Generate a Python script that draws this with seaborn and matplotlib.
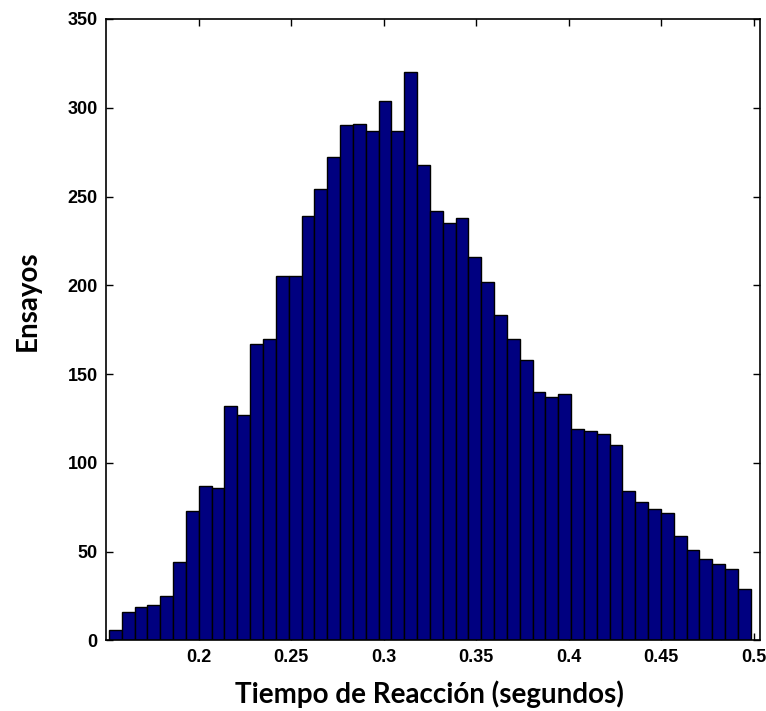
import numpy as np
import pandas as pd
import matplotlib
matplotlib.use("Agg")
import matplotlib.pyplot as plt
import seaborn as sns

# --- data ---
counts = [6, 16, 19, 20, 25, 44, 73, 87, 86, 132,
          127, 167, 170, 205, 205, 239, 254, 272, 290, 291,
          287, 304, 287, 320, 268, 242, 235, 238, 216, 202,
          183, 170, 158, 140, 137, 139, 119, 118, 116, 110,
          84, 78, 74, 72, 59, 51, 46, 43, 40, 29]
t_min = 0.1516   # left edge of first bin (s)
t_max = 0.4985   # right edge of last bin (s)
x_ticks = [0.2, 0.25, 0.3, 0.35, 0.4, 0.45, 0.5]
x_ticklabels = ["0.2", "0.25", "0.3", "0.35", "0.4", "0.45", "0.5"]
y_ticks = [0, 50, 100, 150, 200, 250, 300, 350]
xlabel = "Tiempo de Reacción (segundos)"
ylabel = "Ensayos"

n_bins = len(counts)
edges = np.linspace(t_min, t_max, n_bins + 1)
centers = (edges[:-1] + edges[1:]) / 2
df = pd.DataFrame({"t": centers, "n": counts})

sns.set_style("ticks")
plt.rcParams['font.family'] = ['Liberation Sans', 'DejaVu Sans']
plt.rcParams['text.color'] = 'black'
plt.rcParams['xtick.color'] = 'black'
plt.rcParams['ytick.color'] = 'black'
plt.rcParams['axes.labelcolor'] = 'black'

fig = plt.figure(figsize=(7.66, 7.11), dpi=100)
ax = fig.add_axes([0.1384, 0.0992, 0.9922 - 0.1384, 0.9734 - 0.0992])

sns.histplot(data=df, x="t", weights="n", bins=list(edges), ax=ax,
             color="#000080", edgecolor="black", linewidth=1.0, alpha=1.0)

ax.set_xlim(0.15, 0.5035)
ax.set_ylim(0, 350)
ax.set_xticks(x_ticks)
ax.set_xticklabels(x_ticklabels)
ax.set_yticks(y_ticks)
for s in ax.spines.values():
    s.set_visible(True)
    s.set_linewidth(1.2)
    s.set_color("black")
ax.tick_params(direction="in", top=True, right=True, length=5, width=1,
               labelsize=13, pad=6, colors="black")
for lab in ax.get_xticklabels() + ax.get_yticklabels():
    lab.set_fontweight("bold")

ax.set_xlabel(xlabel, fontsize=20, fontweight="bold",
              family=["Lato", "DejaVu Sans"], color="black")
ax.set_ylabel(ylabel, fontsize=20, fontweight="bold",
              family=["Lato", "DejaVu Sans"], color="black")
ax.xaxis.set_label_coords(0.495, -0.064)
ax.yaxis.set_label_coords(-0.10, 0.546)

fig.savefig("out.png", dpi=100)
